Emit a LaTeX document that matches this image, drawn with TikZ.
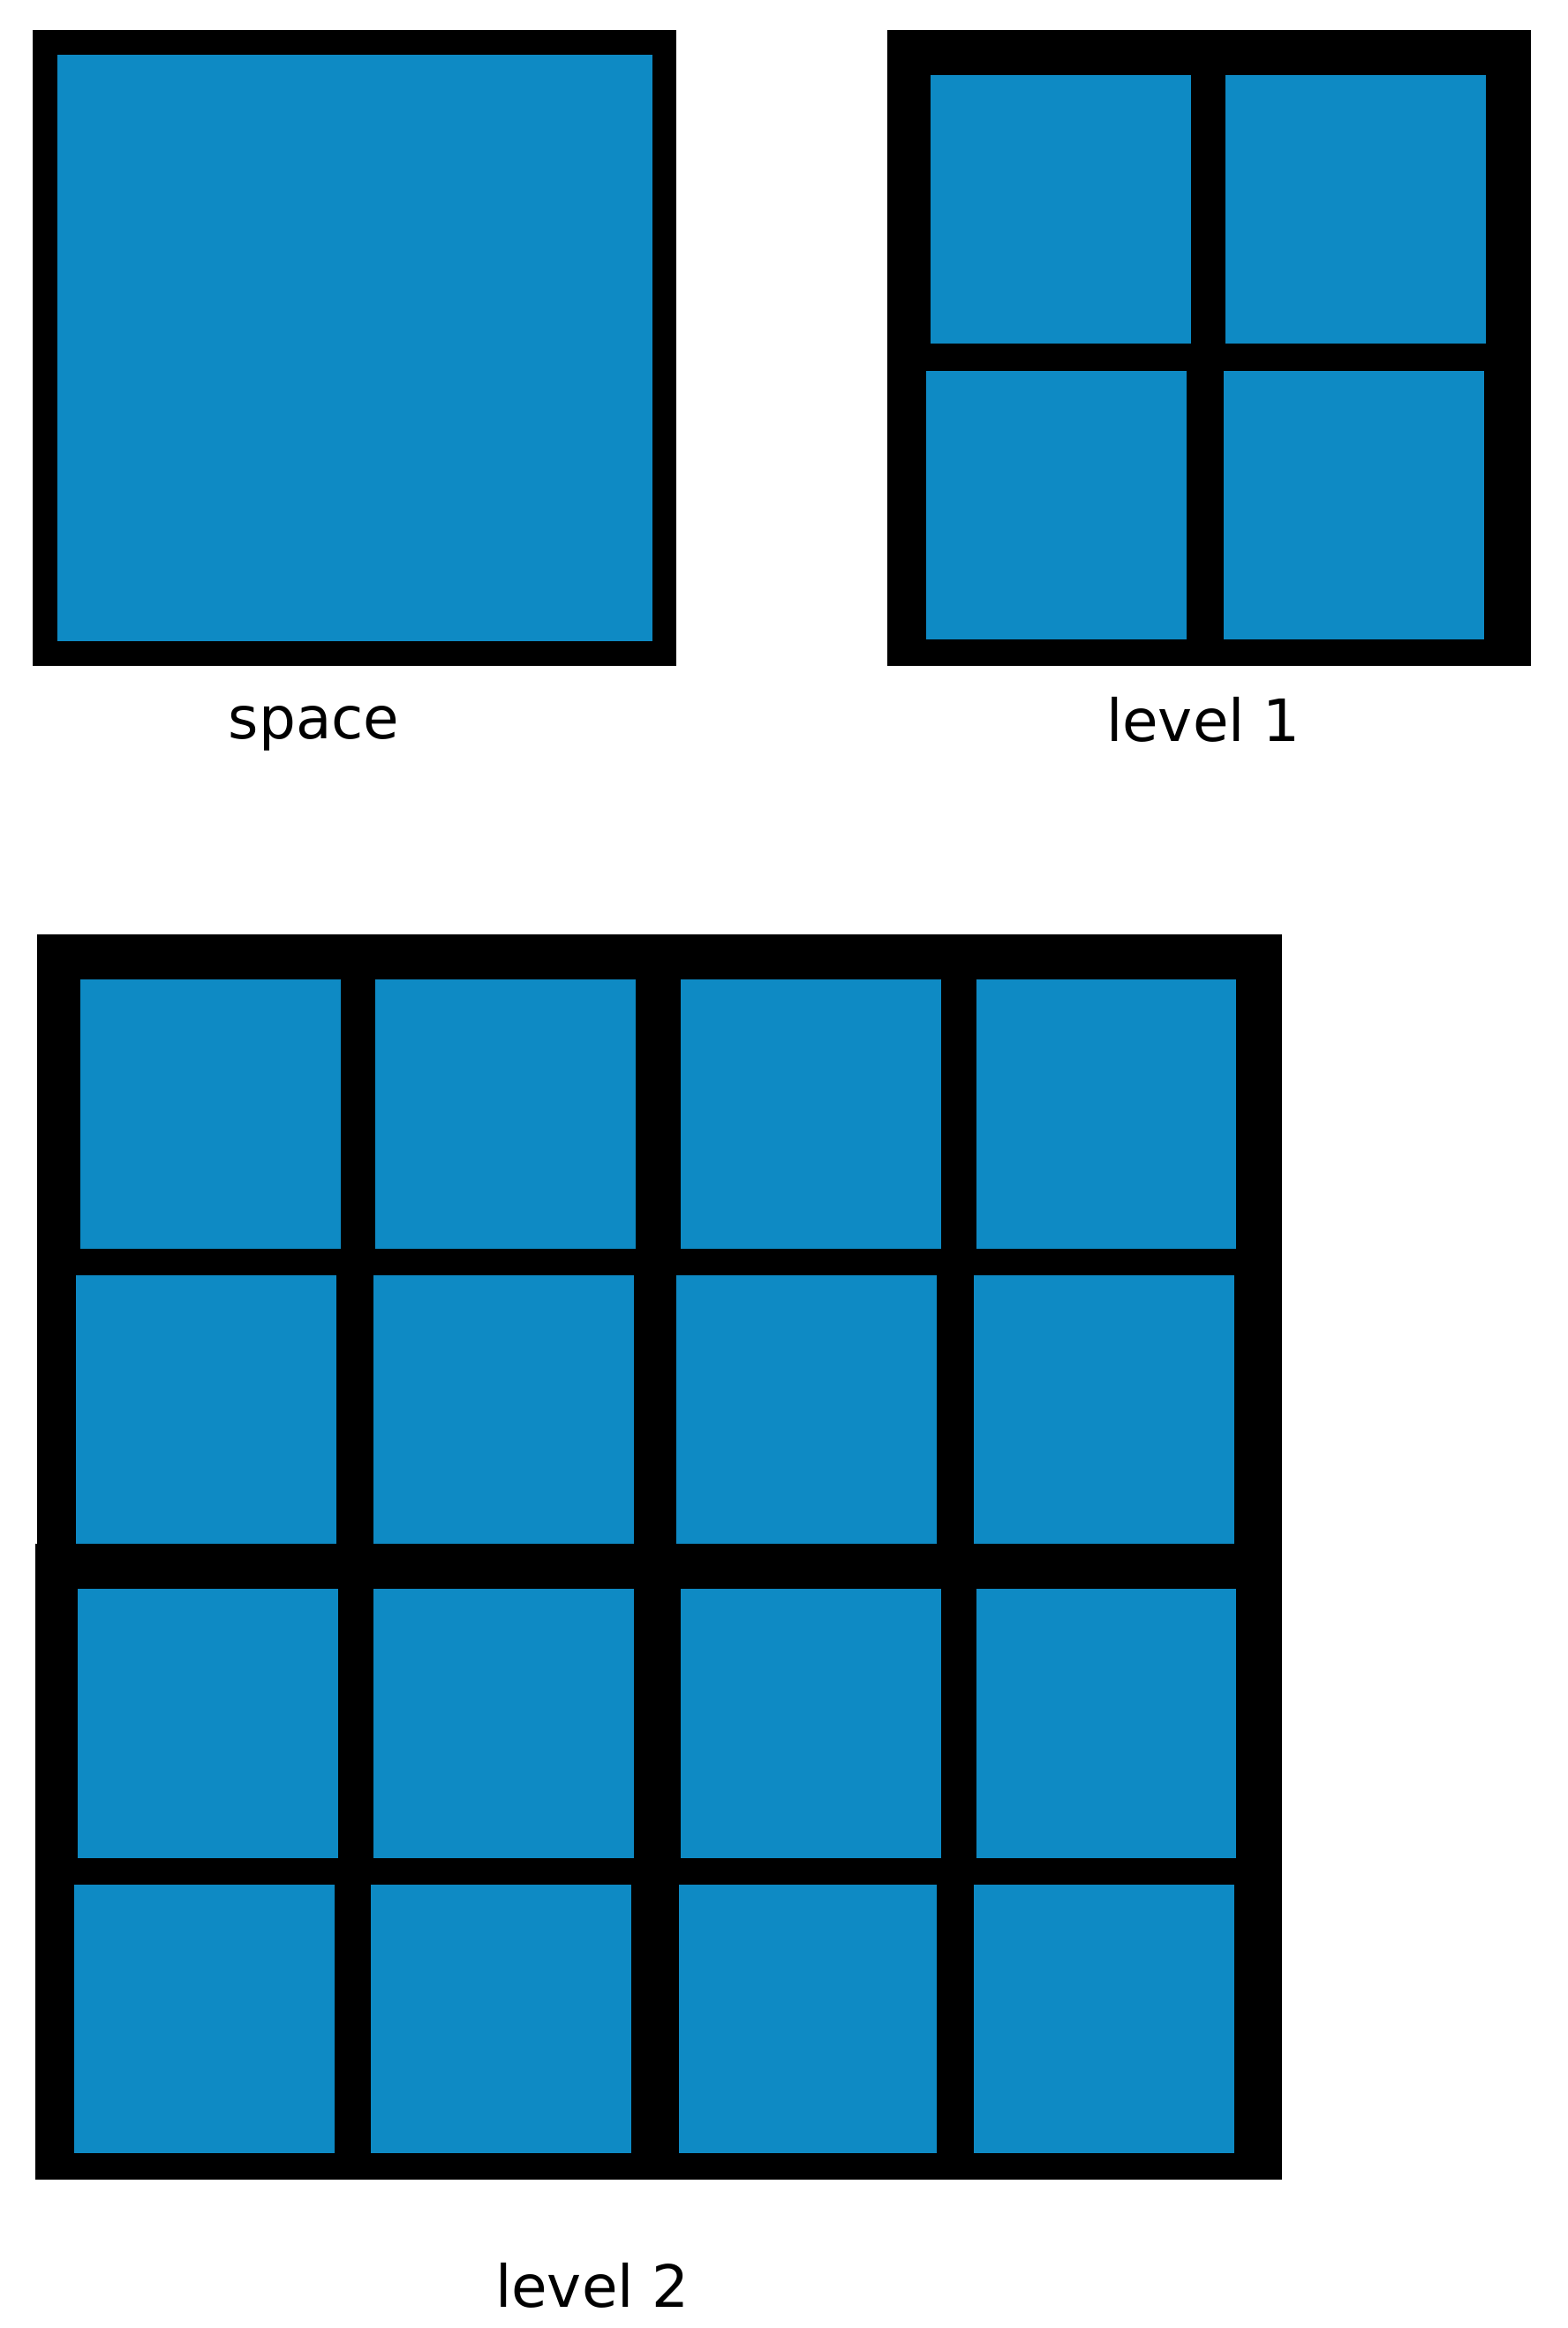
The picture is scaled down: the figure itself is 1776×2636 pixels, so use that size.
\documentclass[tikz,border=0pt]{standalone}
\usepackage{fontspec}
\setmainfont{DejaVu Sans}
\definecolor{cellblue}{HTML}{0E8AC4}
\begin{document}
\begin{tikzpicture}[x=1pt,y=-1pt,
  cell/.style={fill=cellblue},
  frame/.style={fill=black},
  lbl/.style={anchor=base, inner sep=0pt, font=\fontsize{66}{78}\selectfont}]
\useasboundingbox (0,0) rectangle (1776,2636);
% space
\fill[frame] (37,34) rectangle (766,754);
\fill[cell] (65,62) rectangle (739,726);
\node[lbl] (lspace) at (355.7,836.7) {space};
% level 1
\fill[frame] (1005,34) rectangle (1734,754);
\fill[cell] (1054,85) rectangle (1349,389);
\fill[cell] (1388,85) rectangle (1683,389);
\fill[cell] (1049,420) rectangle (1344,723.5);
\fill[cell] (1386,420) rectangle (1681,723.5);
\node[lbl] (lone) at (1363,839.3) {level 1};
% level 2
\fill[frame] (41.8,1057.8) rectangle (1452,1748);
\fill[frame] (39.8,1748) rectangle (1452,2468);
% row 1
\fill[cell] (90.8,1108.8) rectangle (386.2,1413.9);
\fill[cell] (425,1108.8) rectangle (719.9,1413.9);
\fill[cell] (770.9,1108.8) rectangle (1065.8,1413.9);
\fill[cell] (1106,1108.8) rectangle (1400,1413.9);
% row 2
\fill[cell] (86.2,1444) rectangle (381.1,1748);
\fill[cell] (423,1444) rectangle (717.9,1748);
\fill[cell] (765.8,1444) rectangle (1061,1748);
\fill[cell] (1103,1444) rectangle (1398,1748);
% row 3
\fill[cell] (87.8,1799) rectangle (383,2104);
\fill[cell] (423,1799) rectangle (717.9,2104);
\fill[cell] (770.9,1799) rectangle (1065.8,2104);
\fill[cell] (1106,1799) rectangle (1400,2104);
% row 4
\fill[cell] (84.2,2134) rectangle (379,2437.8);
\fill[cell] (419.9,2134) rectangle (714.8,2437.8);
\fill[cell] (768.9,2134) rectangle (1061,2437.8);
\fill[cell] (1103,2134) rectangle (1398,2437.8);
\node[lbl] (ltwo) at (671,2612.7) {level 2};
\end{tikzpicture}
\end{document}
